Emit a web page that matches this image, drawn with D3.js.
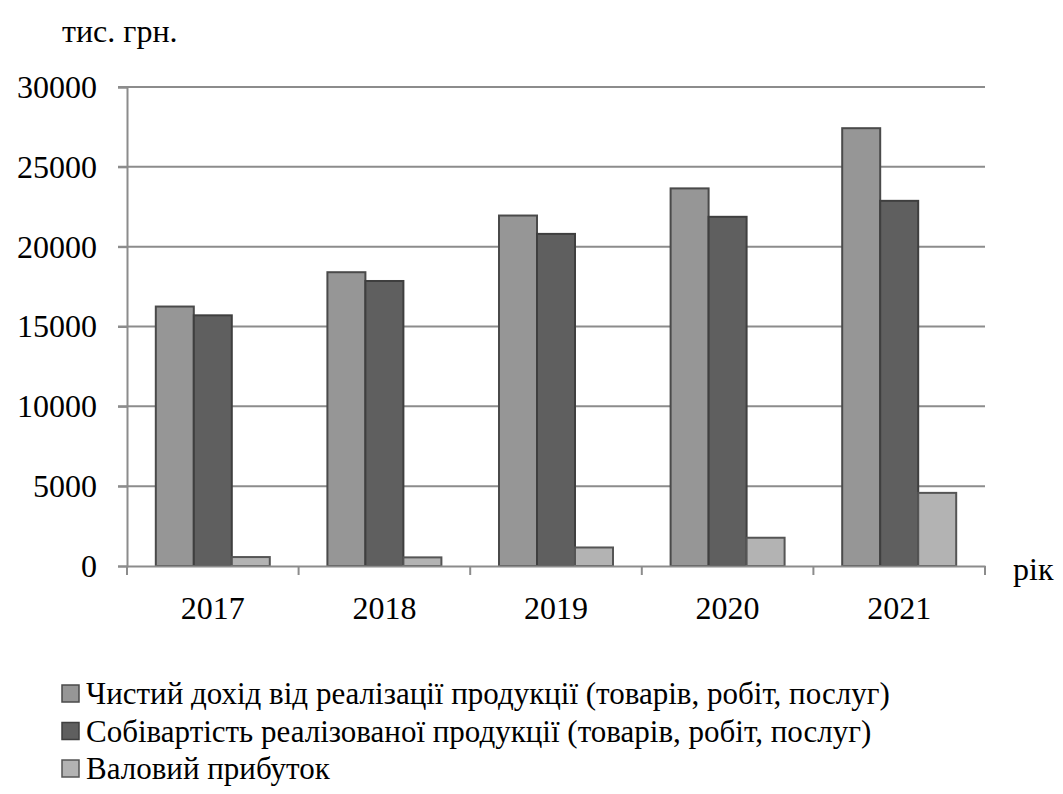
<!DOCTYPE html>
<html><head><meta charset="utf-8">
<script src="https://cdn.jsdelivr.net/npm/d3@7"></script>
<style>body{margin:0;background:#fff}</style>
</head><body>
<svg id="c" width="1063" height="794"></svg>
<script>
const years = ["2017","2018","2019","2020","2021"];
const seriesNames = [
  "Чистий дохід від реалізації продукції (товарів, робіт, послуг)",
  "Собівартість реалізованої продукції (товарів, робіт, послуг)",
  "Валовий прибуток"
];
const revenue = [16250, 18400, 21950, 23650, 27420];
const cost = [15700, 17850, 20800, 21870, 22870];
const profit = [560, 540, 1160, 1770, 4580];
const yTicks = [0, 5000, 10000, 15000, 20000, 25000, 30000];
const fills = ["#969696", "#5f5f5f", "#b3b3b3"];
const strokes = ["#4a4a4a", "#3f3f3f", "#555555"];
const FONT = "serif";

const svg = d3.select("#c");
const pL = 127, pR = 985, pT = 87, pB = 566;
const x = d3.scaleBand().domain(years).range([pL, pR]).paddingInner(0).paddingOuter(0);
const inner = d3.scaleBand().domain([0,1,2]).range([0, x.bandwidth()]).paddingInner(0).paddingOuter(0.758);
const y = d3.scaleLinear().domain([0, 30000]).range([pB, pT]);

// gridlines
svg.append("g").selectAll("line").data(yTicks.filter(d=>d>0)).join("line")
  .attr("x1", pL - 9).attr("x2", pR)
  .attr("y1", d=>y(d)).attr("y2", d=>y(d))
  .attr("stroke", "#8c8c8c").attr("stroke-width", 2);

// bars
const series = [revenue, cost, profit];
series.forEach((vals, si) => {
  svg.append("g").selectAll("rect").data(vals).join("rect")
    .attr("x", (d,i) => x(years[i]) + inner(si))
    .attr("width", inner.bandwidth())
    .attr("y", d => y(d))
    .attr("height", d => y(0) - y(d))
    .attr("fill", fills[si]).attr("stroke", strokes[si]).attr("stroke-width", 2);
});

// y axis
const yAxis = svg.append("g").attr("transform", `translate(${pL},0)`)
  .call(d3.axisLeft(y).tickValues(yTicks).tickSize(9).tickFormat(""));
yAxis.attr("font-family", null).attr("font-size", null);
yAxis.select(".domain").attr("stroke", "#8c8c8c").attr("stroke-width", 2);
yAxis.selectAll(".tick line").attr("stroke", "#8c8c8c").attr("stroke-width", 2);
yAxis.selectAll(".tick text").remove();
yTicks.forEach(v => {
  svg.append("text").attr("x", pL - 30).attr("y", y(v)).attr("dy", "0.34em")
    .attr("text-anchor", "end").attr("font-size", 32).style("font-family", FONT).text(String(v));
});

// x axis
const xAxis = svg.append("g").attr("transform", `translate(0,${pB})`)
  .call(d3.axisBottom(x).tickSize(0).tickFormat("").tickSizeOuter(0));
xAxis.attr("font-family", null).attr("font-size", null);
xAxis.select(".domain").attr("stroke", "#8c8c8c").attr("stroke-width", 2);
xAxis.selectAll(".tick text").remove();
years.forEach(yr => {
  svg.append("text").attr("x", x(yr) + x.bandwidth() / 2).attr("y", pB + 53)
    .attr("text-anchor", "middle").attr("font-size", 32).style("font-family", FONT).text(yr);
});
const bounds = years.map(d => x(d)).concat([pR]);
svg.append("g").selectAll("line").data(bounds).join("line")
  .attr("x1", d=>d).attr("x2", d=>d).attr("y1", pB).attr("y2", pB + 9)
  .attr("stroke", "#8c8c8c").attr("stroke-width", 2);

// axis titles
svg.append("text").attr("x", 62).attr("y", 42).attr("font-size", 32).style("font-family", FONT).text("тис. грн.");
svg.append("text").attr("x", 1013).attr("y", 580).attr("font-size", 32).style("font-family", FONT).text("рік");

// legend
seriesNames.forEach((name, i) => {
  const cy = 693 + i * 37.5;
  svg.append("rect").attr("x", 62).attr("y", cy - 8).attr("width", 17).attr("height", 17)
    .attr("fill", fills[i]).attr("stroke", strokes[i]).attr("stroke-width", 1.5);
  svg.append("text").attr("x", 86).attr("y", cy + 11).attr("font-size", 31).style("font-family", FONT).text(name);
});
</script>
</body></html>
